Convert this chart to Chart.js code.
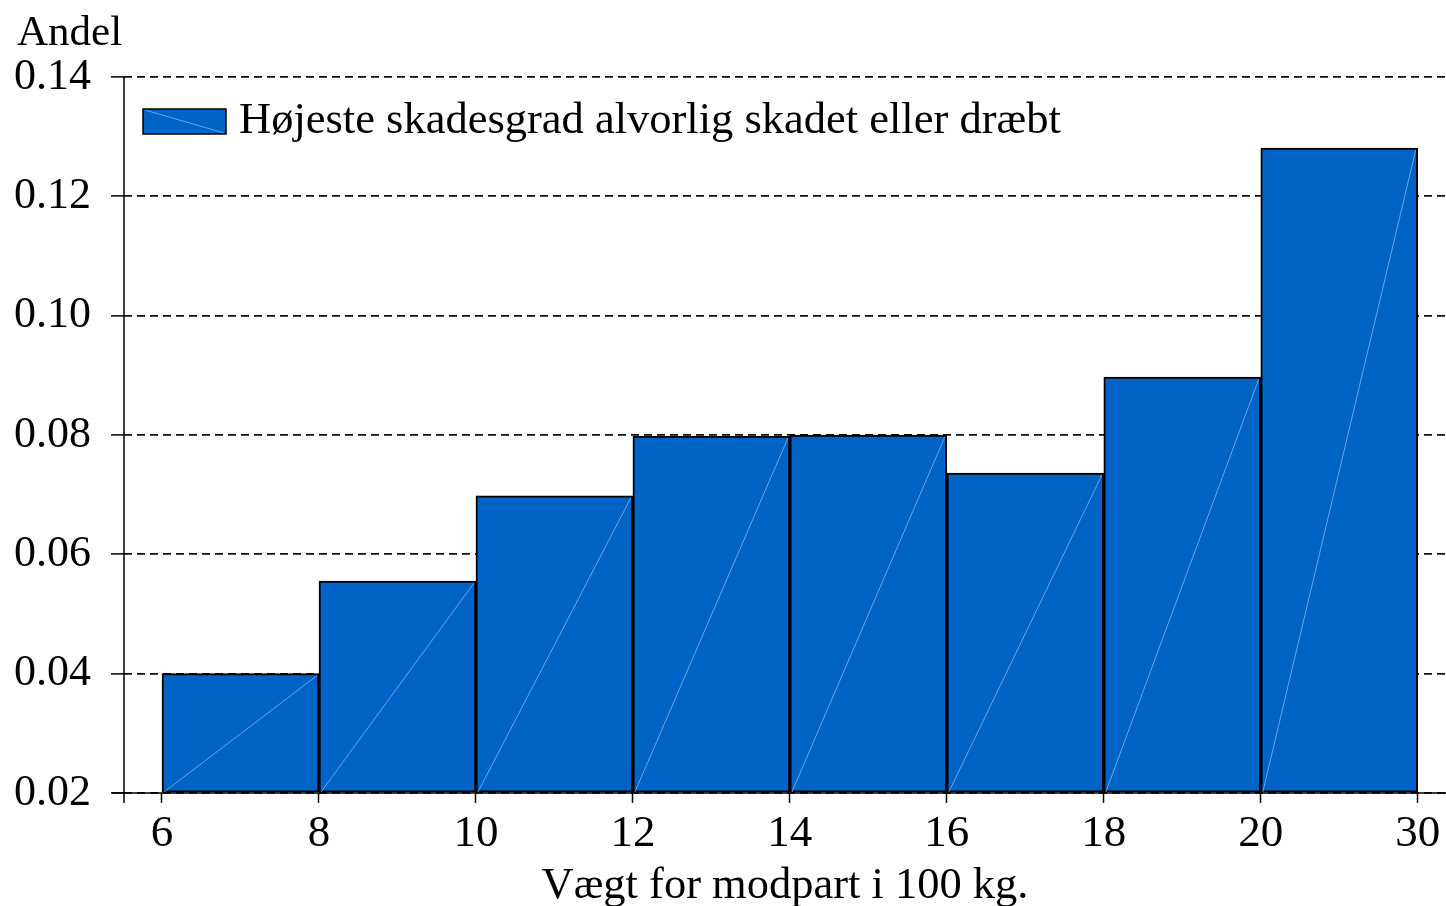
<!DOCTYPE html>
<html>
<head>
<meta charset="utf-8">
<script src="https://cdn.jsdelivr.net/npm/chart.js@4/dist/chart.umd.min.js"></script>
<style>
  html, body { margin: 0; padding: 0; background: #fff; }
  #wrap { width: 1446px; height: 906px; position: relative; }
</style>
</head>
<body>
<div id="wrap"><canvas id="c" width="1446" height="906"></canvas></div>
<script>
// ---- Data ----
const binEdges = ["6", "8", "10", "12", "14", "16", "18", "20", "30"];
const binCenters = [0.5, 1.5, 2.5, 3.5, 4.5, 5.5, 6.5, 7.5];
const shares = [0.0400, 0.0555, 0.0698, 0.0798, 0.0800, 0.0736, 0.0897, 0.1281];
const seriesLabel = "Højeste skadesgrad alvorlig skadet eller dræbt";
const yTitle = "Andel";
const xTitle = "Vægt for modpart i 100 kg.";

const FONT = "Liberation Serif";
const BAR_COLOR = "#0063C6";
const DIAG_COLOR = "rgba(140,185,240,0.75)";

const extrasPlugin = {
  id: "extras",
  beforeDatasetsDraw(chart) {
    const ctx = chart.ctx;
    const area = chart.chartArea;
    const ys = chart.scales.y;
    ctx.save();
    ctx.strokeStyle = "#111";
    ctx.lineWidth = 1.8;
    ctx.setLineDash([8, 5]);
    ys.ticks.forEach(t => {
      const py = Math.round(ys.getPixelForValue(t.value));
      ctx.beginPath();
      ctx.moveTo(area.right, py);
      ctx.lineTo(chart.width, py);
      ctx.stroke();
    });
    ctx.restore();
  },
  afterDatasetsDraw(chart) {
    const ctx = chart.ctx;
    const meta = chart.getDatasetMeta(0);
    ctx.save();
    ctx.strokeStyle = DIAG_COLOR;
    ctx.lineWidth = 1;
    meta.data.forEach(bar => {
      const p = bar.getProps(["x", "y", "base", "width"], true);
      ctx.beginPath();
      ctx.moveTo(p.x - p.width / 2 + 2, p.base);
      ctx.lineTo(p.x + p.width / 2 - 2, p.y + 2);
      ctx.stroke();
    });
    ctx.restore();
  },
  afterDraw(chart) {
    const ctx = chart.ctx;
    const area = chart.chartArea;
    ctx.save();
    ctx.setLineDash([]);
    ctx.strokeStyle = "#000";
    ctx.lineWidth = 1.5;
    ctx.beginPath();
    ctx.moveTo(area.left, area.top);
    ctx.lineTo(area.left, area.bottom + 10);
    ctx.moveTo(area.left - 12, area.bottom);
    ctx.lineTo(chart.width, area.bottom);
    ctx.stroke();
    // y axis title
    ctx.fillStyle = "#000";
    ctx.font = "43px '" + FONT + "'";
    ctx.textBaseline = "alphabetic";
    ctx.textAlign = "left";
    ctx.fillText(yTitle, 17, 45);
    // legend
    const ds = chart.data.datasets[0];
    const sx = 143, sy = 109, sw = 83, sh = 25;
    ctx.fillStyle = ds.backgroundColor;
    ctx.fillRect(sx, sy, sw, sh);
    ctx.strokeStyle = DIAG_COLOR;
    ctx.lineWidth = 1;
    ctx.beginPath();
    ctx.moveTo(sx + 2, sy + 1);
    ctx.lineTo(sx + sw - 2, sy + sh - 1);
    ctx.stroke();
    ctx.strokeStyle = "#000";
    ctx.lineWidth = 1.5;
    ctx.strokeRect(sx, sy, sw, sh);
    ctx.fillStyle = "#000";
    ctx.font = "44.5px '" + FONT + "'";
    ctx.fillText(ds.label, 239, 133);
    ctx.restore();
  }
};

new Chart(document.getElementById("c"), {
  type: "bar",
  data: {
    datasets: [{
      label: seriesLabel,
      data: binCenters.map((x, i) => ({ x: x, y: shares[i] })),
      base: 0.02,
      backgroundColor: BAR_COLOR,
      borderColor: "#000",
      borderWidth: 2,
      borderSkipped: false,
      barPercentage: 1,
      categoryPercentage: 1
    }]
  },
  plugins: [extrasPlugin],
  options: {
    responsive: false,
    animation: false,
    devicePixelRatio: 1,
    layout: { padding: { top: 77, left: -6, right: 0, bottom: 0 } },
    plugins: {
      legend: { display: false },
      title: { display: false },
      tooltip: { enabled: false }
    },
    scales: {
      x: {
        type: "linear",
        offset: false,
        min: -0.242,
        max: 8.18,
        afterBuildTicks(scale) {
          scale.ticks = binEdges.map((_, i) => ({ value: i }));
        },
        afterFit(scale) {
          scale.paddingRight = 0;
          scale.paddingLeft = 0;
        },
        ticks: {
          autoSkip: false,
          maxRotation: 0,
          color: "#000",
          padding: 9,
          font: { family: FONT, size: 45, lineHeight: 1.0 },
          callback: (v) => binEdges[v]
        },
        grid: {
          offset: false,
          drawOnChartArea: false,
          drawTicks: true,
          tickLength: 10,
          tickColor: "#000",
          tickWidth: 1.5
        },
        border: { display: false },
        title: {
          display: true,
          text: xTitle,
          color: "#000",
          font: { family: FONT, size: 44.5, lineHeight: 0.9 },
          padding: { top: 0, bottom: 0 }
        }
      },
      y: {
        min: 0.02,
        max: 0.14,
        ticks: {
          stepSize: 0.02,
          color: "#000",
          padding: 20,
          font: { family: FONT, size: 44 },
          callback: (v) => v.toFixed(2)
        },
        grid: {
          color: "#111",
          lineWidth: 1.8,
          tickBorderDash: [],
          tickColor: "#000",
          tickWidth: 1.5,
          tickLength: 13,
          drawTicks: true
        },
        border: { display: false, dash: [8, 5] }
      }
    }
  }
});
</script>
</body>
</html>
